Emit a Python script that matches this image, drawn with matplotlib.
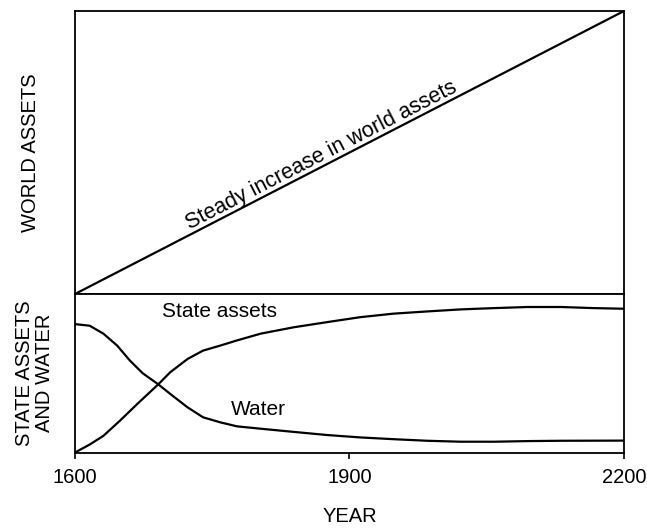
import matplotlib
matplotlib.use('Agg')
import matplotlib.pyplot as plt
import numpy as np

plt.rcParams['font.family'] = ['Liberation Sans', 'DejaVu Sans']

# top panel: steady rise from corner to corner
world_years = [1600, 2200]
world_assets = [0.0, 1.0]

# bottom panel (relative units, 0..1)
state_years = [1600, 1616, 1631, 1649, 1668, 1691, 1704, 1723, 1740, 1759, 1777,
               1803, 1839, 1876, 1912, 1948, 1985, 2022, 2058, 2095, 2131, 2167, 2200]
state_assets = [0.0, 0.05, 0.105, 0.20, 0.306, 0.43, 0.506, 0.59, 0.643, 0.675, 0.707,
                0.75, 0.79, 0.823, 0.854, 0.876, 0.89, 0.903, 0.911, 0.918, 0.918, 0.911, 0.907]

water_years = [1600, 1616, 1631, 1646, 1660, 1674, 1691, 1704, 1723, 1740, 1759, 1777,
               1803, 1839, 1876, 1912, 1948, 1985, 2022, 2058, 2095, 2131, 2200]
water = [0.81, 0.80, 0.75, 0.675, 0.58, 0.50, 0.43, 0.37, 0.285, 0.222, 0.19, 0.165,
         0.15, 0.13, 0.11, 0.095, 0.084, 0.074, 0.068, 0.068, 0.072, 0.074, 0.075]

year_ticks = [1600, 1900, 2200]

W, H = 647, 529
fig = plt.figure(figsize=(W / 100, H / 100), dpi=100)

left, right = 75 / W, 624 / W
y_top, y_mid, y_bot = 1 - 11 / H, 1 - 294 / H, 1 - 452.5 / H

ax1 = fig.add_axes([left, y_mid, right - left, y_top - y_mid])
ax2 = fig.add_axes([left, y_bot, right - left, y_mid - y_bot])

lw = 1.6
for ax in (ax1, ax2):
    ax.set_xlim(1600, 2200)
    ax.set_ylim(0, 1)
    ax.set_yticks([])
    for s in ax.spines.values():
        s.set_linewidth(1.3)

# top panel
ax1.plot(world_years, world_assets, color='black', lw=lw, solid_capstyle='butt')
ax1.set_xticks([])
ax1.set_ylabel('WORLD ASSETS', fontsize=14.5, labelpad=25)

# rotate label to follow the line
p0 = ax1.transData.transform((world_years[0], world_assets[0]))
p1 = ax1.transData.transform((world_years[1], world_assets[1]))
angle = np.degrees(np.arctan2(p1[1] - p0[1], p1[0] - p0[0]))
ax1.text(1869, 0.49, 'Steady increase in world assets', fontsize=15.5,
         rotation=angle, rotation_mode='anchor', ha='center', va='center')

# bottom panel
ax2.plot(state_years, state_assets, color='black', lw=lw)
ax2.plot(water_years, water, color='black', lw=lw)
ax2.text(1758, 0.89, 'State assets', fontsize=15, ha='center', va='center')
ax2.text(1800, 0.27, 'Water', fontsize=15, ha='center', va='center')

ax2.set_xticks(year_ticks)
ax2.set_xticklabels([str(y) for y in year_ticks], fontsize=14.5)
ax2.tick_params(axis='x', direction='out', length=4.5, width=1.2, pad=7)
ax2.set_xlabel('YEAR', fontsize=14.5, labelpad=14)
ax2.set_ylabel('STATE ASSETS\nAND WATER', fontsize=14.5, labelpad=15, linespacing=1.05)

fig.savefig('out.png', dpi=100)
